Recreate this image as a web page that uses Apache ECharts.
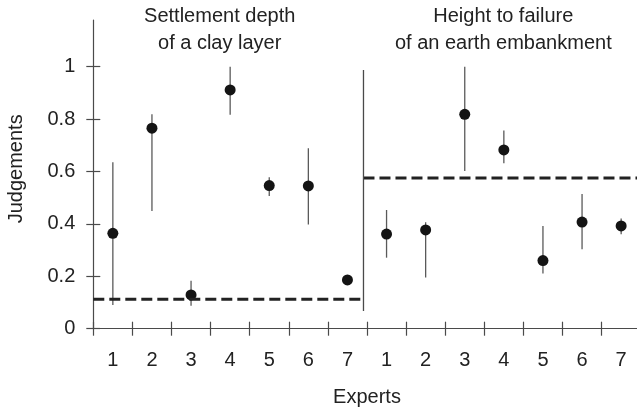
<!DOCTYPE html>
<html>
<head>
<meta charset="utf-8">
<script src="https://cdn.jsdelivr.net/npm/echarts@6/dist/echarts.min.js"></script>
<style>
  html, body { margin: 0; padding: 0; background: #fff; }
  #chart { width: 637px; height: 409px; }
</style>
</head>
<body>
<div id="chart"></div>
<script>
// Expert labels: seven experts for each of the two prediction problems
const experts = ['1', '2', '3', '4', '5', '6', '7', '1', '2', '3', '4', '5', '6', '7'];

// Best estimates and their lower / upper bounds
const judgements = [0.364, 0.765, 0.129, 0.911, 0.546, 0.545, 0.186,
                    0.361, 0.377, 0.818, 0.682, 0.260, 0.407, 0.392];
const lowerBounds = [0.090, 0.449, 0.088, 0.816, 0.506, 0.398, 0.180,
                     0.271, 0.195, 0.602, 0.631, 0.211, 0.303, 0.360];
const upperBounds = [0.635, 0.818, 0.183, 1.000, 0.578, 0.689, 0.192,
                     0.453, 0.406, 1.000, 0.756, 0.392, 0.514, 0.421];

// Measured (true) values for each problem
const clayTrue = 0.112;
const embankmentTrue = 0.575;

// Separator between the two problems (position on the 0..14 expert scale, y-span)
const separatorX = 6.91;
const separatorSpan = [0.068, 0.987];

const yTicks = [0, 0.2, 0.4, 0.6, 0.8, 1];
const yMax = 1.178;

const titles = ['Settlement depth\nof a clay layer', 'Height to failure\nof an earth embankment'];

const FONT = 'Liberation Sans, Arial, Helvetica, sans-serif';
const TEXT = '#222';
const AXIS = '#4a4a4a';

const chart = echarts.init(document.getElementById('chart'), null, { renderer: 'canvas' });

const pointData = judgements.map((v, i) => [i, v]);
const barData = judgements.map((v, i) => [i, lowerBounds[i], upperBounds[i]]);

chart.setOption({
  animation: false,
  backgroundColor: '#fff',
  grid: { left: 93.3, top: 20, width: 547.4, bottom: 80.3, containLabel: false, outerBoundsMode: 'none' },
  graphic: [
    { type: 'text', x: 219.7, y: 3, style: { text: titles[0], align: 'center', verticalAlign: 'top',
      font: '20px ' + FONT, lineHeight: 27, fill: TEXT } },
    { type: 'text', x: 503.3, y: 3, style: { text: titles[1], align: 'center', verticalAlign: 'top',
      font: '20px ' + FONT, lineHeight: 27, fill: TEXT } }
  ],
  xAxis: [
    {
      type: 'category',
      data: experts,
      position: 'bottom',
      boundaryGap: true,
      name: 'Experts',
      nameLocation: 'middle',
      nameGap: 59,
      nameTextStyle: { fontFamily: FONT, fontSize: 20, color: TEXT },
      axisLine: { lineStyle: { color: AXIS, width: 1.2 } },
      axisTick: { show: true, inside: false, length: 7, lineStyle: { color: AXIS, width: 1.2 } },
      axisLabel: { fontFamily: FONT, fontSize: 20, color: TEXT, margin: 22, interval: 0 },
      splitLine: { show: false }
    },
    {
      // continuous expert scale: inner tick marks and the reference lines
      type: 'value',
      position: 'bottom',
      min: 0, max: 14, interval: 1,
      axisLine: { show: false },
      axisTick: { show: true, inside: true, length: 7, lineStyle: { color: AXIS, width: 1.2 } },
      axisLabel: { show: false },
      splitLine: { show: false }
    }
  ],
  yAxis: [
    {
      type: 'value',
      position: 'left',
      min: 0, max: yMax,
      name: 'Judgements',
      nameLocation: 'middle',
      nameGap: 67,
      nameRotate: 90,
      nameTextStyle: { fontFamily: FONT, fontSize: 20, color: TEXT, padding: [0, 0, 0, 11] },
      axisLine: { show: true, lineStyle: { color: AXIS, width: 1.2 } },
      axisTick: { show: true, inside: false, length: 7, customValues: yTicks, lineStyle: { color: AXIS, width: 1.2 } },
      axisLabel: { fontFamily: FONT, fontSize: 20, color: TEXT, margin: 18, customValues: yTicks },
      splitLine: { show: false }
    },
    {
      type: 'value',
      position: 'left',
      min: 0, max: yMax,
      axisLine: { show: false },
      axisTick: { show: true, inside: true, length: 7, customValues: yTicks, lineStyle: { color: AXIS, width: 1.2 } },
      axisLabel: { show: false, customValues: yTicks },
      splitLine: { show: false }
    }
  ],
  series: [
    {
      name: 'range',
      type: 'custom',
      xAxisIndex: 0, yAxisIndex: 0,
      z: 2,
      renderItem: function (params, api) {
        const lo = api.coord([api.value(0), api.value(1)]);
        const hi = api.coord([api.value(0), api.value(2)]);
        return {
          type: 'line',
          shape: { x1: lo[0], y1: lo[1], x2: hi[0], y2: hi[1] },
          style: { stroke: '#5a5a5a', lineWidth: 1.3 }
        };
      },
      encode: { x: 0, y: [1, 2] },
      data: barData
    },
    {
      name: 'judgement',
      type: 'scatter',
      xAxisIndex: 0, yAxisIndex: 0,
      z: 3,
      symbol: 'circle',
      symbolSize: 11,
      itemStyle: { color: '#141414', opacity: 1 },
      data: pointData
    },
    {
      name: 'clay true value',
      type: 'line',
      xAxisIndex: 1, yAxisIndex: 0,
      symbol: 'none',
      z: 4,
      lineStyle: { color: '#222', width: 3, type: [11, 5] },
      data: [[0, clayTrue], [separatorX, clayTrue]]
    },
    {
      name: 'embankment true value',
      type: 'line',
      xAxisIndex: 1, yAxisIndex: 0,
      symbol: 'none',
      z: 4,
      lineStyle: { color: '#222', width: 3, type: [11, 5] },
      data: [[separatorX, embankmentTrue], [14, embankmentTrue]]
    },
    {
      name: 'separator',
      type: 'line',
      xAxisIndex: 1, yAxisIndex: 0,
      symbol: 'none',
      z: 4,
      lineStyle: { color: AXIS, width: 1.3 },
      data: [[separatorX, separatorSpan[0]], [separatorX, separatorSpan[1]]]
    }
  ]
});
</script>
</body>
</html>
